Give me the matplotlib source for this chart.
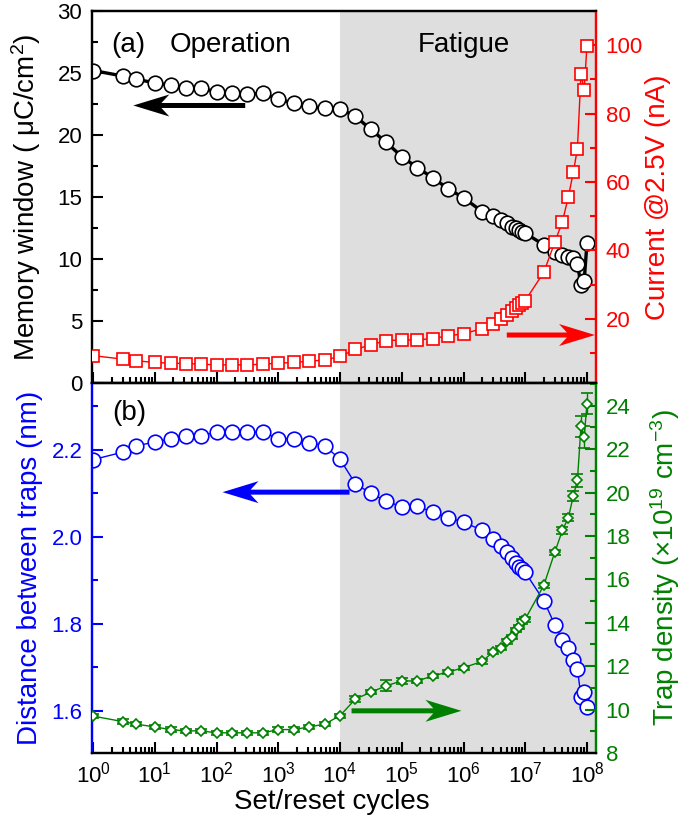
import matplotlib
matplotlib.use("Agg")
import matplotlib.pyplot as plt
from matplotlib.patches import FancyArrow
from matplotlib.ticker import (MultipleLocator, FixedLocator, LogLocator, NullFormatter,
                               FormatStrFormatter, LogFormatterSciNotation)

plt.rcParams['font.family'] = ['Liberation Sans', 'DejaVu Sans']
plt.rcParams['mathtext.fontset'] = 'custom'
plt.rcParams['mathtext.rm'] = 'Liberation Sans'
plt.rcParams['mathtext.it'] = 'Liberation Sans:italic'
plt.rcParams['mathtext.bf'] = 'Liberation Sans:bold'

# ---------------- data ----------------
cycles = [1, 3, 5, 10, 18, 32, 56, 100, 178, 316, 562, 1e3, 1.78e3, 3.16e3, 5.62e3,
          1e4, 1.78e4, 3.16e4, 5.62e4, 1e5, 1.78e5, 3.16e5, 5.62e5, 1e6,
          2e6, 3e6, 4e6, 5e6, 6e6, 7e6, 8e6, 9e6, 1e7,
          2e7, 3e7, 4e7, 5e7, 6e7, 7e7, 8e7, 9e7, 1e8]

memory_window = [25.2, 24.76, 24.5, 24.2, 24.0, 23.8, 23.75, 23.5, 23.4, 23.3, 23.35, 22.9, 22.55, 22.3, 22.15,
                 22.1, 21.5, 20.45, 19.4, 18.26, 17.37, 16.56, 15.67, 14.94,
                 13.83, 13.49, 13.16, 12.9, 12.62, 12.49, 12.35, 12.21, 12.08,
                 11.14, 10.6, 10.33, 10.2, 10.1, 9.6, 7.9, 8.2, 11.3]

current = [9.2, 8.2, 7.7, 7.2, 7.0, 6.9, 6.7, 6.5, 6.5, 6.5, 6.7, 7.0, 7.2, 7.6, 7.9,
           9.0, 11.0, 12.4, 13.6, 13.8, 13.8, 14.2, 15.0, 15.6,
           17.1, 18.5, 20.0, 21.2, 22.3, 23.2, 24.1, 24.7, 25.3,
           33.6, 42.3, 48.4, 55.7, 62.8, 69.7, 91.7, 86.9, 99.9]

distance = [2.177, 2.194, 2.209, 2.217, 2.225, 2.232, 2.232, 2.24, 2.24, 2.24, 2.24, 2.225, 2.225, 2.216, 2.209,
            2.178, 2.121, 2.100, 2.081, 2.069, 2.070, 2.056, 2.044, 2.033,
            2.015, 1.995, 1.979, 1.964, 1.950, 1.940, 1.931, 1.925, 1.918,
            1.853, 1.798, 1.763, 1.745, 1.716, 1.696, 1.632, 1.644, 1.609]

trap_density = [9.70, 9.45, 9.33, 9.20, 9.08, 9.02, 9.02, 8.93, 8.93, 8.93, 8.93, 9.08, 9.08, 9.20, 9.33,
                9.72, 10.49, 10.80, 11.10, 11.32, 11.32, 11.55, 11.73, 11.93,
                12.22, 12.65, 12.85, 13.14, 13.36, 13.66, 13.80, 14.06, 14.17,
                15.73, 17.24, 18.26, 18.85, 19.84, 20.56, 23.06, 22.55, 24.09]

trap_err = [0.1, 0.1, 0.1, 0.1, 0.1, 0.1, 0.1, 0.1, 0.1, 0.1, 0.1, 0.1, 0.1, 0.1, 0.1,
            0.1, 0.12, 0.1, 0.25, 0.12, 0.1, 0.1, 0.1, 0.1,
            0.1, 0.1, 0.1, 0.1, 0.1, 0.1, 0.1, 0.12, 0.12,
            0.12, 0.12, 0.15, 0.18, 0.22, 0.28, 0.48, 0.5, 0.48]

x_ticks = [1, 1e1, 1e2, 1e3, 1e4, 1e5, 1e6, 1e7, 1e8]

fatigue_start = 1e4
xlim = (0.96, 1.4e8)

RED = '#ff0000'
BLUE = '#0000ff'
GREEN = '#008000'
GRAY = '#dedede'

fig = plt.figure(figsize=(6.98, 8.22), dpi=100)
L, R = 92 / 698, 596 / 698
ax1 = fig.add_axes([L, (822 - 383) / 822, R - L, (383 - 11) / 822])
ax2 = fig.add_axes([L, (822 - 753) / 822, R - L, (753 - 383) / 822], sharex=ax1)
ax1r = ax1.twinx()
ax2r = ax2.twinx()

TICK_FS = 16
LAB_FS = 20

for ax in (ax1, ax2):
    ax.set_xscale('log')
    ax.set_xlim(*xlim)
    ax.axvspan(fatigue_start, xlim[1], color=GRAY, lw=0, zorder=0)

# ---------- top panel ----------
ax1.plot(cycles, memory_window, '-o', color='black', lw=2.4, ms=10.5,
         mfc='white', mec='black', mew=1.2, zorder=3)
ax1r.plot(cycles, current, '-s', color=RED, lw=1.0, ms=9,
          mfc='white', mec=RED, mew=1.2, zorder=3)
ax1.set_ylim(0, 30)
ax1r.set_ylim(1.2, 110)
ax1.yaxis.set_major_locator(MultipleLocator(5))
ax1.yaxis.set_minor_locator(MultipleLocator(2.5))
ax1r.yaxis.set_major_locator(MultipleLocator(20))
ax1r.yaxis.set_minor_locator(MultipleLocator(10))
ax1.set_ylabel('Memory window ( μC/cm$^{2}$)', fontsize=LAB_FS)
ax1r.set_ylabel('Current @2.5V (nA)', fontsize=LAB_FS, color=RED)
ax1.yaxis.set_label_coords(-0.097, 0.5)
ax1r.yaxis.set_label_coords(1.097, 0.5)

# ---------- bottom panel ----------
ax2.plot(cycles, distance, '-o', color=BLUE, lw=1.0, ms=10.5,
         mfc='white', mec=BLUE, mew=1.2, zorder=3)
ax2r.errorbar(cycles, trap_density, yerr=trap_err, fmt='-D', color=GREEN, lw=1.0,
              ms=5.5, mfc='white', mec=GREEN, mew=1.2, ecolor=GREEN,
              elinewidth=1.0, capsize=4, capthick=1.0, zorder=3)
ax2.set_ylim(1.503, 2.353)
ax2r.set_ylim(8, 25.05)
ax2.yaxis.set_major_locator(MultipleLocator(0.2))
ax2.yaxis.set_minor_locator(MultipleLocator(0.1))
ax2.yaxis.set_major_formatter(FormatStrFormatter('%.1f'))
ax2r.yaxis.set_major_locator(MultipleLocator(2))
ax2r.yaxis.set_minor_locator(MultipleLocator(1))
ax2.set_ylabel('Distance between traps (nm)', fontsize=LAB_FS, color=BLUE)
ax2r.set_ylabel('Trap density (×10$^{19}$ cm$^{-3}$)', fontsize=LAB_FS, color=GREEN)
ax2.yaxis.set_label_coords(-0.097, 0.5)
ax2r.yaxis.set_label_coords(1.104, 0.5)
ax2.set_xlabel('Set/reset cycles', fontsize=LAB_FS)
ax2.xaxis.set_label_coords(0.476, -0.098)

# x ticks
for ax in (ax1, ax2):
    ax.xaxis.set_major_locator(FixedLocator(x_ticks))
    ax.xaxis.set_major_formatter(LogFormatterSciNotation())
    ax.xaxis.set_minor_locator(LogLocator(base=10, subs=range(2, 10), numticks=20))
    ax.xaxis.set_minor_formatter(NullFormatter())
ax1.tick_params(axis='x', labelbottom=False)

def style(ax, color):
    ax.tick_params(axis='y', which='major', direction='in', length=8, width=1.5,
                   colors=color, labelsize=TICK_FS, pad=7)
    ax.tick_params(axis='y', which='minor', direction='in', length=4.5, width=1.5, colors=color)

style(ax1, 'black')
style(ax1r, RED)
style(ax2, BLUE)
style(ax2r, GREEN)

for ax in (ax1, ax2):
    ax.tick_params(axis='x', which='major', direction='in', length=8, width=1.5,
                   labelsize=TICK_FS, pad=6, top=False)
    ax.tick_params(axis='x', which='minor', direction='in', length=4.5, width=1.5, top=False)

for ax in (ax1, ax1r, ax2, ax2r):
    for s in ax.spines.values():
        s.set_linewidth(1.6)

ax1.spines['left'].set_color('black')
ax1r.spines['left'].set_color('black')
ax1r.spines['right'].set_color(RED)
ax1.spines['right'].set_color(RED)
ax2.spines['left'].set_color(BLUE)
ax2r.spines['left'].set_color(BLUE)
ax2r.spines['right'].set_color(GREEN)
ax2.spines['right'].set_color(GREEN)

# texts
ax1.text(0.073, 0.909, '(a)', transform=ax1.transAxes, fontsize=LAB_FS, ha='center', va='center')
ax1.text(0.274, 0.909, 'Operation', transform=ax1.transAxes, fontsize=LAB_FS, ha='center', va='center')
ax1.text(0.738, 0.909, 'Fatigue', transform=ax1.transAxes, fontsize=LAB_FS, ha='center', va='center')
ax2.text(0.075, 0.919, '(b)', transform=ax2.transAxes, fontsize=LAB_FS, ha='center', va='center')

# arrows (swept-back heads), sizes in pixels converted to axes fractions
def arrow(ax, x0, x1, y, color, axh):
    ax_w = 504.0
    a = FancyArrow(x0, y, x1 - x0, 0, width=5 / axh, head_width=22 / axh,
                   head_length=36 / ax_w, overhang=0.22, length_includes_head=True,
                   transform=ax.transAxes, color=color, lw=0, clip_on=False, zorder=6)
    ax.add_patch(a)

arrow(ax1r, 0.304, 0.082, 0.746, 'black', 372.0)
arrow(ax1r, 0.823, 0.998, 0.129, RED, 372.0)
arrow(ax2r, 0.511, 0.259, 0.705, BLUE, 370.0)
arrow(ax2r, 0.515, 0.733, 0.114, GREEN, 370.0)

fig.savefig('out.png', dpi=100)
